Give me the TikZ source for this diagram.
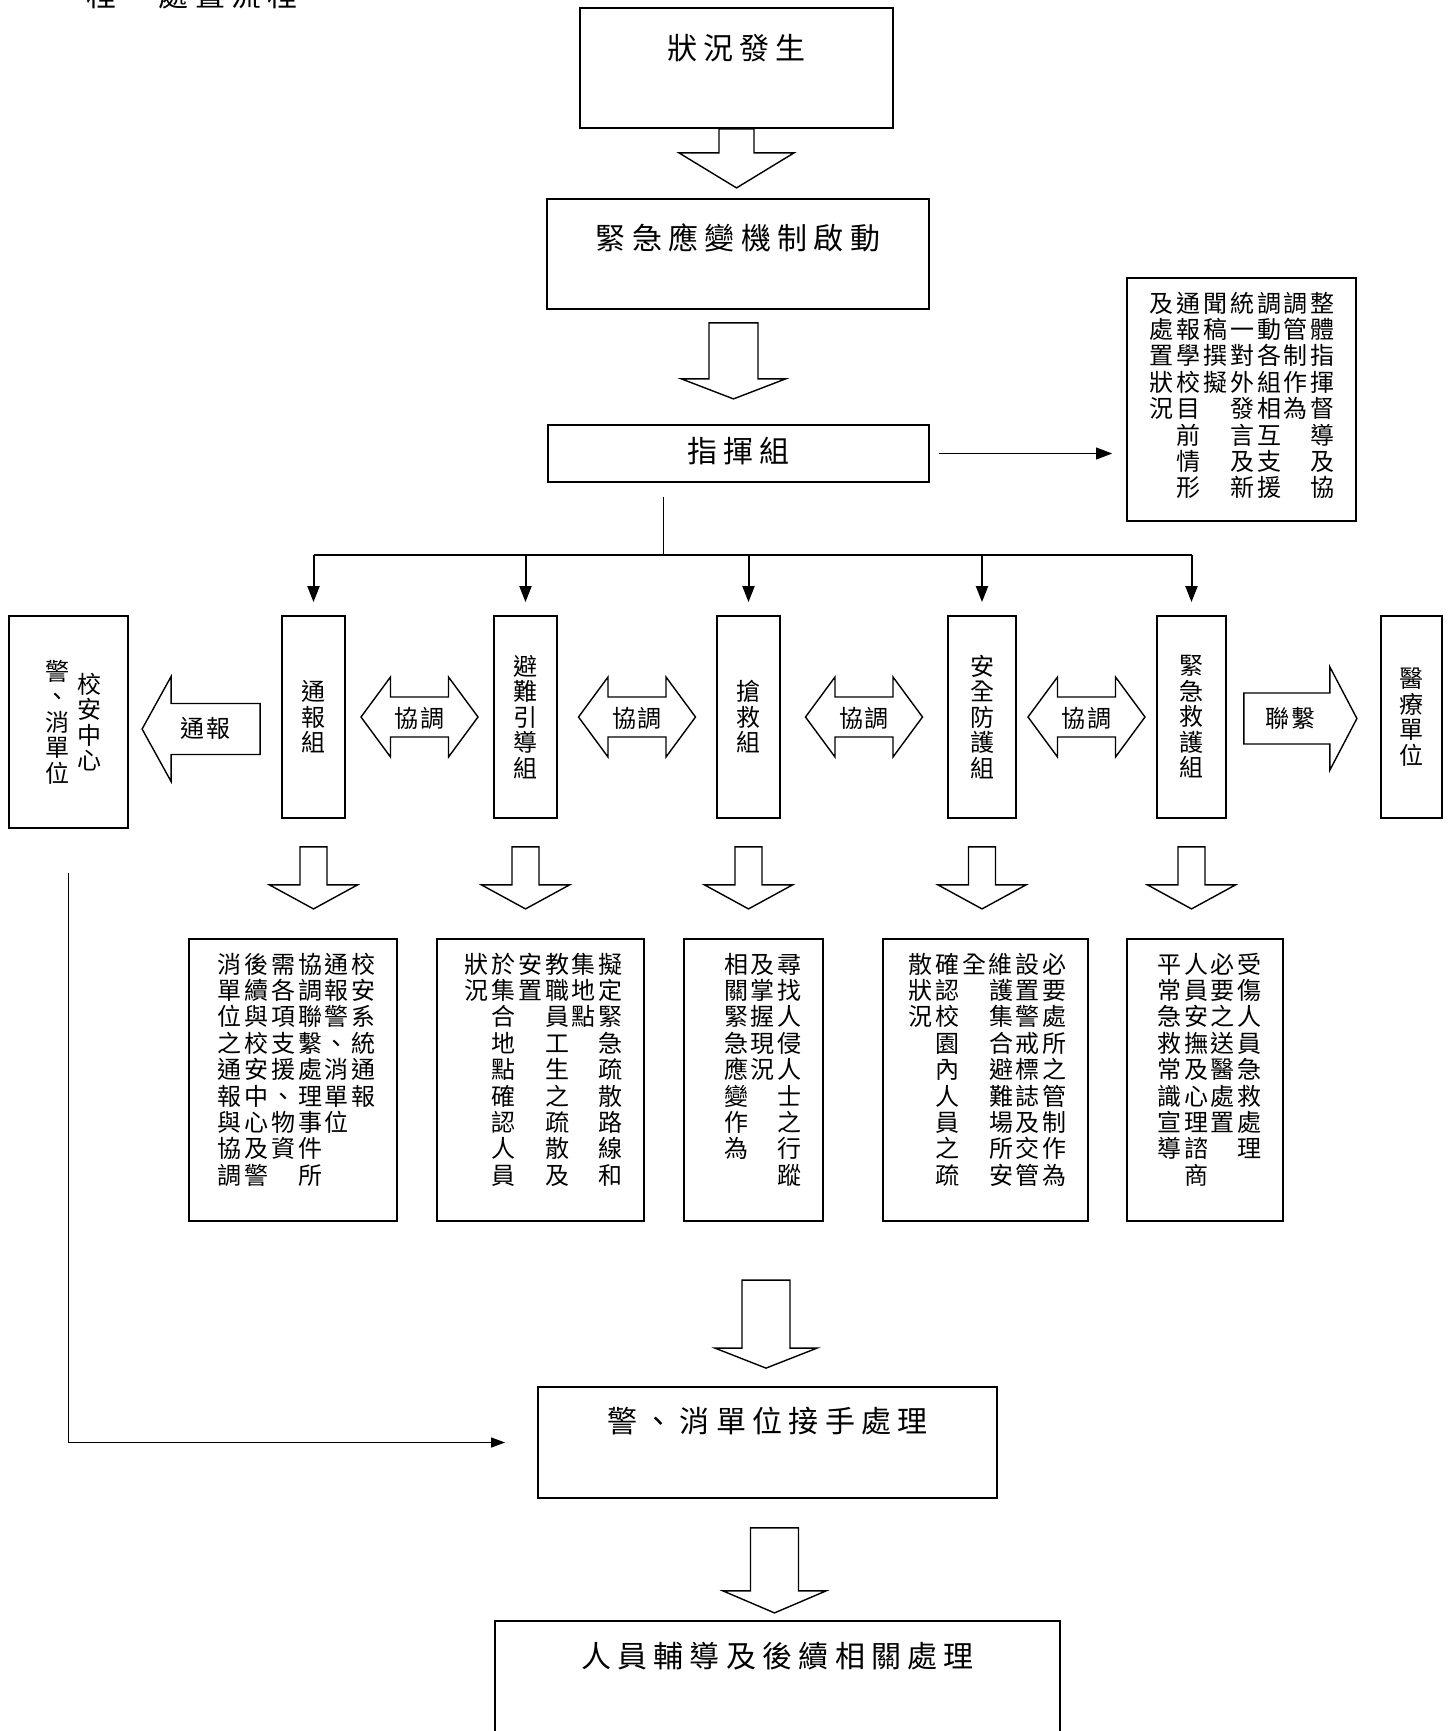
\documentclass[tikz,border=0pt]{standalone}
\usepackage{fontspec}
\setmainfont{Noto Sans CJK TC}
\newfontfamily\widecjk[LetterSpace=21]{Noto Sans CJK TC}
\newfontfamily\midcjk[LetterSpace=8]{Noto Sans CJK TC}
\usetikzlibrary{arrows.meta,calc}

% vertical text: one column per item, read from right to left
\newlength\vcolw \setlength\vcolw{13.4pt}
\newlength\vcolskip \setlength\vcolskip{13.2pt}
\makeatletter
\newcommand\vcol[2][t]{\parbox[#1]{\vcolw}{\centering\baselineskip=\vcolskip\relax
  \@tfor\vc@ch:=#2\do{\vc@ch\par}}}
\newcommand\vtext[2][t]{\let\vt@acc\@empty
  \@for\vt@col:=#2\do{%
    \edef\vt@tmp{\noexpand\vcol[#1]{\vt@col}\unexpanded\expandafter{\vt@acc}}%
    \let\vt@acc\vt@tmp}%
  \vt@acc}
\makeatother

\tikzset{
  box/.style={draw, line width=0.9pt, inner sep=0pt},
  bigbox/.style={box, font=\widecjk\fontsize{15pt}{18pt}\selectfont},
  colbox/.style={box, align=right, font=\fontsize{12pt}{13.2pt}\selectfont},
  tall/.style={text height=17.05pt, text depth=123.95pt},
  grpbox/.style={box, minimum height=101pt, font=\fontsize{12pt}{13pt}\selectfont,
    execute at begin node={\setlength\vcolskip{12.75pt}}},
  lbl/.style={inner sep=0pt, font=\midcjk\fontsize{12pt}{13pt}\selectfont},
  titletext/.style={inner sep=0pt, font=\widecjk\fontsize{15pt}{18pt}\selectfont},
  blockline/.style={line width=0.7pt, fill=white},
  bus/.style={line width=1pt},
  headarrow/.style={-{Triangle[length=8pt,width=6pt]}},
  pics/blockarrow/.style n args={4}{code={
    \draw[blockline] (0,-#3) -- (#1-#2,-#3) -- (#1-#2,-#4) -- (#1,0)
      -- (#1-#2,#4) -- (#1-#2,#3) -- (0,#3) -- cycle;}},
  pics/dblarrow/.style n args={4}{code={
    \draw[blockline] (0,0) -- (#2,-#4) -- (#2,-#3) -- (#1-#2,-#3) -- (#1-#2,-#4)
      -- (#1,0) -- (#1-#2,#4) -- (#1-#2,#3) -- (#2,#3) -- (#2,#4) -- cycle;}},
}

\begin{document}
\begin{tikzpicture}[x=0.5pt,y=-0.5pt]
\useasboundingbox (0,0) rectangle (1454,1731);

% heading, cut by the top of the page
\node[titletext, anchor=base west] (ttl) at (86,6) {程　處置流程};

% main column
\node[bigbox, minimum width=156.5pt, text height=25.7pt, text depth=34.3pt] (start) at (736.5,68) {狀況發生};
\node[bigbox, minimum width=191pt, text height=25.2pt, text depth=29.8pt] (plan) at (738,254) {緊急應變機制啟動};
\node[bigbox, minimum width=190.5pt, text height=18.7pt, text depth=9.8pt] (cmd) at (738.5,453.5) {指揮組};
\node[colbox, text width=114.5pt, text height=17.05pt, text depth=104.45pt] (duty) at (1241.5,399.5)
  {\vtext{整體指揮督導及協,調管制作為,調動各組相互支援,統一對外發言及新,聞稿撰擬,通報學校目前情形,及處置狀況}\kern10pt};

% groups
\node[grpbox, minimum width=59.5pt, minimum height=106pt] (kc) at (68.5,722)
  {\setlength\vcolw{16pt}\hspace*{5.5pt}\vtext[c]{校安中心,警、消單位}};
\node[grpbox, minimum width=31.5pt] (g1) at (313.5,717) {\vtext[c]{通報組}};
\node[grpbox, minimum width=31.5pt] (g2) at (525.5,717) {\vtext[c]{避難引導組}};
\node[grpbox, minimum width=31.5pt] (g3) at (748.5,717) {\vtext[c]{搶救組}};
\node[grpbox, minimum width=34pt] (g4) at (982,717) {\vtext[c]{安全防護組}};
\node[grpbox, minimum width=34.5pt] (g5) at (1191.5,717) {\vtext[c]{緊急救護組}};
\node[grpbox, minimum width=30.5pt] (med) at (1411.5,717) {\vtext[c]{醫療單位}};

% tasks of each group
\node[colbox, tall, text width=104pt] (b1) at (293,1080)
  {\vtext{校安系統通報,通報警、消單位,協調聯繫處理事件所,需各項支援、物資,後續與校安中心及警,消單位之通報與協調}\kern10pt};
\node[colbox, tall, text width=103.5pt] (b2) at (540.5,1080)
  {\vtext{擬定緊急疏散路線和,集地點,教職員工生之疏散及,安置,於集合地點確認人員,狀況}\kern10pt};
\node[colbox, tall, text width=69.5pt] (b3) at (753.5,1080)
  {\vtext{尋找人侵人士之行蹤,及掌握現況,相關緊急應變作為}\kern10pt};
\node[colbox, tall, text width=102.5pt] (b4) at (985.5,1080)
  {\vtext{必要處所之管制作為,設置警戒標誌及交管,維護集合避難場所安,全,確認校園內人員之疏,散狀況}\kern10pt};
\node[colbox, tall, text width=78pt] (b5) at (1205,1080)
  {\vtext{受傷人員急救處理,必要之送醫處置,人員安撫及心理諮商,平常急救常識宣導}\kern10pt};

% end of the flow
\node[bigbox, minimum width=229.5pt, text height=22.7pt, text depth=32.8pt] (hand) at (767.5,1442.5) {警、消單位接手處理};
\node[bigbox, minimum width=282.5pt, text height=23.2pt, text depth=46.3pt] (care) at (777.5,1690.5) {人員輔導及後續相關處理};

% connectors
\pic[rotate=-90] at (start.south) {blockarrow={59}{35}{17.5}{57.5}};
\pic[rotate=-90] at ($(plan.south)+(-4.5,13)$) {blockarrow={76}{20}{24.5}{52}};
\draw[headarrow, shorten <=4.5pt, shorten >=7pt] (cmd.east) -- (cmd.east -| duty.west);

\coordinate (hub) at (663,555);
\draw[line width=0.5pt, shorten <=7pt] (hub |- cmd.south) -- (hub);
\draw[bus] (g1.north |- hub) -- (g5.north |- hub);
\foreach \g in {g1,g2,g3,g4,g5}
  \draw[bus, headarrow, shorten >=6.5pt] (\g.north |- hub) -- (\g.north);

\pic[rotate=180] at ($(g1.west)+(-21,12)$) {blockarrow={118}{29}{25.5}{52.5}};
\node[lbl] (tell) at ($(g1.west)+(-76,11)$) {通報};
\foreach \a/\b [count=\i] in {g1/g2,g2/g3,g3/g4,g4/g5} {
  \pic at ($(\a.east)!.5!(\b.west)+(-58.5,0)$) {dblarrow={117}{29.5}{20}{40}};
  \node[lbl] (co\i) at ($(\a.east)!.5!(\b.west)+(0,1.5)$) {協調};
}
\pic at ($(g5.east)+(17,1.5)$) {blockarrow={113}{27}{25.5}{51.5}};
\node[lbl] (call) at ($(g5.east)+(64,1)$) {聯繫};

\foreach \g in {g1,g2,g3,g4,g5}
  \pic[rotate=-90] at ($(\g.south)+(0,28)$) {blockarrow={62}{24}{13.5}{44}};

\pic[rotate=-90] at ($(hand.north)+(-1.5,-106)$) {blockarrow={88}{20}{24}{51}};
\pic[rotate=-90] at ($(hand.south)+(7,29)$) {blockarrow={85}{22}{24}{51.5}};
\draw[line width=0.6pt, -{Triangle[length=7pt,width=5pt]}, shorten <=22pt, shorten >=16pt] (kc.south) |- (hand.west);
\end{tikzpicture}
\end{document}
